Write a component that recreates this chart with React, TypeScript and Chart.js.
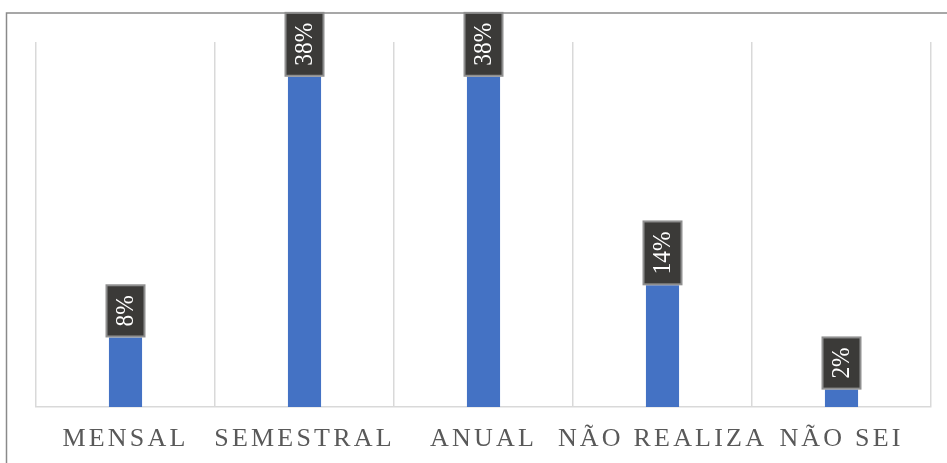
import React, { useEffect, useRef } from "react";
import { Chart, registerables } from "chart.js";

Chart.register(...registerables);

const categories = ["MENSAL", "SEMESTRAL", "ANUAL", "NÃO REALIZA", "NÃO SEI"];
const shares = [8, 38, 38, 14, 2];
const yMax = 42;

const SERIF = "'Liberation Serif', 'Times New Roman', serif";

// Outer frame of the chart box, drawn before everything else.
const framePlugin = {
  id: "frame",
  beforeDraw(chart: any) {
    const { ctx, width, height } = chart;
    ctx.save();
    ctx.strokeStyle = "#8a8a8a";
    ctx.lineWidth = 1.5;
    ctx.beginPath();
    ctx.moveTo(6.5, height + 2);
    ctx.lineTo(6.5, 13);
    ctx.lineTo(width + 2, 13);
    ctx.stroke();
    ctx.restore();
    // spaced-out category labels
    (ctx as any).letterSpacing = "3.2px";
  },
  afterDraw(chart: any) {
    (chart.ctx as any).letterSpacing = "0px";
  },
};

// Vertical value callouts in dark boxes above each bar.
const calloutPlugin = {
  id: "callouts",
  afterDatasetsDraw(chart: any) {
    const { ctx } = chart;
    const meta = chart.getDatasetMeta(0);
    const squeeze = 0.9;
    ctx.save();
    (ctx as any).letterSpacing = "0px";
    ctx.font = `26px ${SERIF}`;
    meta.data.forEach((bar: any, i: number) => {
      const text = `${shares[i]}%`;
      const tw = ctx.measureText(text).width * squeeze;
      const boxH = tw + 20;
      const boxW = 38;
      const bottom = bar.y - 1;
      const top = bottom - boxH;
      const left = bar.x - boxW / 2;
      ctx.fillStyle = "#3b3a38";
      ctx.fillRect(left, top, boxW, boxH);
      ctx.strokeStyle = "#8f8f8f";
      ctx.lineWidth = 2;
      ctx.strokeRect(left, top, boxW, boxH);
      ctx.save();
      ctx.translate(bar.x, top + boxH / 2);
      ctx.rotate(-Math.PI / 2);
      ctx.scale(squeeze, 1);
      ctx.fillStyle = "#ffffff";
      ctx.textAlign = "center";
      ctx.textBaseline = "middle";
      ctx.fillText(text, 0, 1);
      ctx.restore();
    });
    ctx.restore();
  },
};

export default function App() {
  const ref = useRef<HTMLCanvasElement | null>(null);

  useEffect(() => {
    if (!ref.current) return;
    const chart = new Chart(ref.current, {
      type: "bar",
      data: {
        labels: categories,
        datasets: [
          {
            data: shares,
            backgroundColor: "#4472C4",
            borderWidth: 0,
            categoryPercentage: 1,
            barPercentage: 0.185,
          },
        ],
      },
      options: {
        animation: false,
        responsive: false,
        events: [],
        layout: { padding: { left: 36, right: 16, top: 42, bottom: 0 } },
        plugins: {
          legend: { display: false },
          tooltip: { enabled: false },
          title: { display: false },
        },
        scales: {
          x: {
            afterFit(scale: any) {
              scale.height = 56;
            },
            grid: {
              display: true,
              color: "#d9d9d9",
              lineWidth: 1.5,
              drawTicks: false,
              offset: true,
            },
            border: { display: true, color: "#d9d9d9", width: 1.5 },
            ticks: {
              color: "#595959",
              font: { family: SERIF, size: 26 },
              padding: 17,
              maxRotation: 0,
              autoSkip: false,
            },
          },
          y: {
            display: false,
            min: 0,
            max: yMax,
          },
        },
      },
      plugins: [framePlugin, calloutPlugin],
    });
    return () => chart.destroy();
  }, []);

  return (
    <div style={{ position: "fixed", left: 0, top: 0, width: 947, height: 463, background: "#fff" }}>
      <canvas ref={ref} width={947} height={463} style={{ display: "block" }} />
    </div>
  );
}
